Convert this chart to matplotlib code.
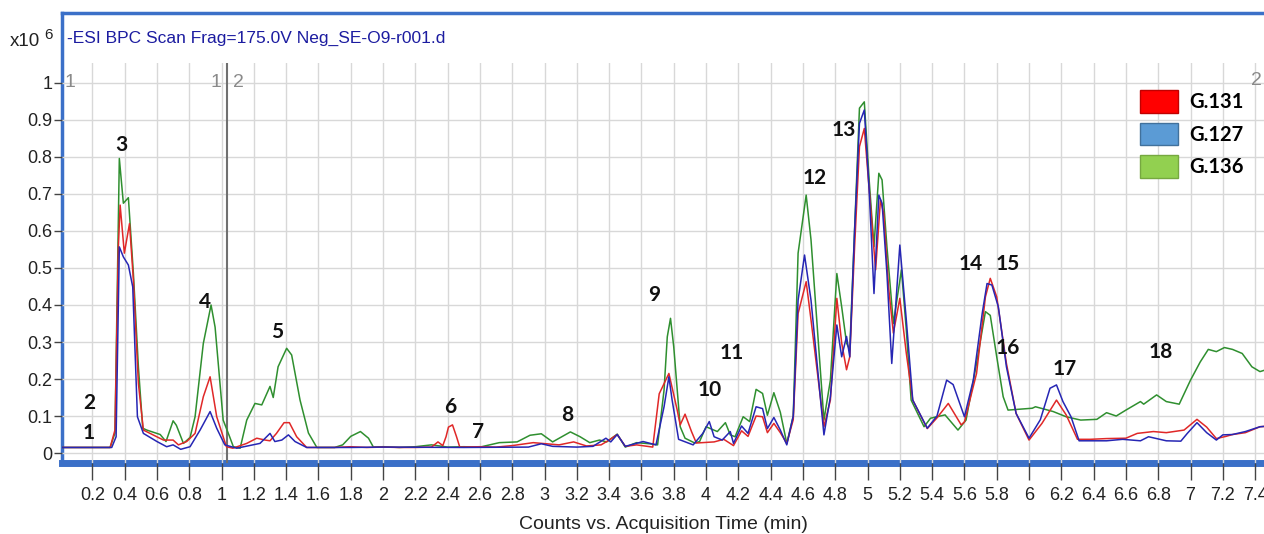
import numpy as np
import matplotlib.pyplot as plt
from matplotlib.patches import Patch

# Base peak chromatograms (counts x10^6 vs. minutes)
t_g131 = [0.00, 0.31, 0.34, 0.361, 0.372, 0.398, 0.43, 0.454, 0.485, 0.516, 0.557, 0.64, 0.70, 0.733,
          0.784, 0.836, 0.887, 0.929, 0.97, 1.03, 1.07, 1.156, 1.218, 1.27, 1.30, 1.34, 1.387, 1.42,
          1.465, 1.527, 1.70, 1.80, 1.90, 2.00, 2.10, 2.20, 2.30, 2.34, 2.37, 2.39, 2.405, 2.43, 2.455,
          2.475, 2.60, 2.70, 2.80, 2.93, 3.01, 3.09, 3.18, 3.26, 3.35, 3.40, 3.45, 3.50, 3.57, 3.67,
          3.71, 3.77, 3.82, 3.84, 3.87, 3.91, 3.94, 4.05, 4.11, 4.17, 4.22, 4.26, 4.31, 4.35, 4.38,
          4.42, 4.46, 4.50, 4.54, 4.57, 4.62, 4.65, 4.73, 4.77, 4.81, 4.84, 4.87, 4.89, 4.92, 4.95,
          4.98, 5.02, 5.05, 5.08, 5.10, 5.13, 5.16, 5.20, 5.24, 5.28, 5.37, 5.43, 5.50, 5.58, 5.60,
          5.675, 5.73, 5.76, 5.80, 5.86, 5.92, 6.00, 6.08, 6.17, 6.23, 6.30, 6.38, 6.48, 6.60, 6.67,
          6.77, 6.85, 6.96, 7.04, 7.10, 7.16, 7.22, 7.26, 7.34, 7.43, 7.46]
i_g131 = [0.015, 0.015, 0.062, 0.557, 0.670, 0.540, 0.620, 0.468, 0.188, 0.062, 0.053, 0.035, 0.035, 0.022,
          0.031, 0.053, 0.152, 0.206, 0.098, 0.017, 0.013, 0.026, 0.040, 0.035, 0.033, 0.053, 0.082, 0.082,
          0.044, 0.015, 0.015, 0.017, 0.015, 0.016, 0.015, 0.015, 0.016, 0.030, 0.020, 0.044, 0.070, 0.076, 0.044,
          0.016, 0.017, 0.016, 0.020, 0.028, 0.025, 0.022, 0.030, 0.019, 0.022, 0.035, 0.050, 0.018, 0.022, 0.016,
          0.160, 0.215, 0.119, 0.076, 0.105, 0.058, 0.027, 0.030, 0.037, 0.020, 0.060, 0.045, 0.100, 0.098, 0.055,
          0.080, 0.055, 0.026, 0.090, 0.377, 0.463, 0.360, 0.071, 0.143, 0.418, 0.297, 0.225, 0.260, 0.558, 0.828,
          0.877, 0.657, 0.495, 0.684, 0.648, 0.449, 0.324, 0.418, 0.270, 0.143, 0.066, 0.095, 0.134, 0.076, 0.084,
          0.215, 0.422, 0.472, 0.422, 0.242, 0.107, 0.035, 0.080, 0.143, 0.103, 0.037, 0.037, 0.039, 0.040, 0.053,
          0.058, 0.055, 0.062, 0.091, 0.070, 0.039, 0.045, 0.050, 0.055, 0.071, 0.072]

t_g127 = [0.00, 0.32, 0.347, 0.367, 0.392, 0.423, 0.45, 0.479, 0.516, 0.60, 0.66, 0.70, 0.747, 0.805,
          0.867, 0.929, 0.97, 1.02, 1.094, 1.238, 1.30, 1.33, 1.373, 1.414, 1.455, 1.527, 1.80, 2.00,
          2.50, 2.90, 2.98, 3.05, 3.20, 3.30, 3.38, 3.41, 3.45, 3.50, 3.61, 3.69, 3.74, 3.77, 3.79,
          3.83, 3.92, 3.98, 4.02, 4.05, 4.10, 4.15, 4.17, 4.22, 4.26, 4.31, 4.35, 4.38, 4.42, 4.46,
          4.50, 4.54, 4.57, 4.61, 4.65, 4.73, 4.77, 4.81, 4.84, 4.87, 4.89, 4.92, 4.95, 4.98, 5.01,
          5.04, 5.07, 5.09, 5.12, 5.15, 5.20, 5.24, 5.28, 5.37, 5.43, 5.49, 5.53, 5.60, 5.655, 5.71,
          5.74, 5.77, 5.81, 5.86, 5.92, 6.00, 6.07, 6.13, 6.17, 6.21, 6.26, 6.31, 6.48, 6.58, 6.69,
          6.74, 6.85, 6.94, 6.98, 7.04, 7.10, 7.16, 7.20, 7.26, 7.34, 7.43, 7.46]
i_g127 = [0.015, 0.015, 0.044, 0.557, 0.530, 0.508, 0.449, 0.098, 0.053, 0.031, 0.017, 0.022, 0.010, 0.017,
          0.062, 0.112, 0.067, 0.022, 0.013, 0.026, 0.053, 0.031, 0.035, 0.049, 0.031, 0.015, 0.015, 0.016,
          0.015, 0.016, 0.025, 0.018, 0.016, 0.018, 0.040, 0.030, 0.050, 0.018, 0.031, 0.022, 0.125, 0.206, 0.143,
          0.037, 0.022, 0.053, 0.085, 0.044, 0.035, 0.058, 0.026, 0.073, 0.053, 0.125, 0.120, 0.066, 0.096, 0.062,
          0.022, 0.100, 0.413, 0.535, 0.413, 0.049, 0.152, 0.346, 0.260, 0.315, 0.260, 0.603, 0.891, 0.927, 0.711,
          0.431, 0.697, 0.675, 0.486, 0.242, 0.562, 0.360, 0.143, 0.067, 0.100, 0.197, 0.185, 0.098, 0.197, 0.377,
          0.458, 0.454, 0.395, 0.233, 0.107, 0.040, 0.090, 0.175, 0.184, 0.139, 0.098, 0.033, 0.033, 0.037, 0.033,
          0.044, 0.033, 0.032, 0.053, 0.082, 0.055, 0.035, 0.049, 0.050, 0.058, 0.071, 0.072]

t_g136 = [0.00, 0.31, 0.34, 0.367, 0.392, 0.423, 0.454, 0.485, 0.512, 0.537, 0.62, 0.656, 0.70, 0.72,
          0.764, 0.805, 0.836, 0.887, 0.935, 0.96, 1.01, 1.05, 1.073, 1.115, 1.156, 1.207, 1.249, 1.30,
          1.32, 1.35, 1.403, 1.434, 1.486, 1.538, 1.59, 1.70, 1.75, 1.80, 1.86, 1.91, 1.94, 2.00, 2.10,
          2.20, 2.30, 2.40, 2.50, 2.60, 2.72, 2.83, 2.91, 2.98, 3.05, 3.16, 3.22, 3.28, 3.34, 3.385,
          3.45, 3.50, 3.57, 3.65, 3.70, 3.74, 3.76, 3.78, 3.80, 3.84, 3.87, 3.93, 3.96, 4.00, 4.07,
          4.12, 4.15, 4.18, 4.23, 4.27, 4.31, 4.35, 4.38, 4.42, 4.46, 4.50, 4.54, 4.57, 4.62, 4.65,
          4.73, 4.77, 4.81, 4.84, 4.87, 4.89, 4.92, 4.95, 4.98, 5.01, 5.04, 5.07, 5.09, 5.12, 5.16,
          5.21, 5.24, 5.27, 5.35, 5.39, 5.48, 5.56, 5.61, 5.675, 5.73, 5.76, 5.80, 5.84, 5.87, 6.02,
          6.04, 6.15, 6.23, 6.32, 6.42, 6.48, 6.54, 6.60, 6.69, 6.71, 6.79, 6.85, 6.93, 7.00, 7.06,
          7.11, 7.16, 7.21, 7.26, 7.32, 7.38, 7.43, 7.46]
i_g136 = [0.015, 0.015, 0.054, 0.796, 0.675, 0.690, 0.486, 0.233, 0.067, 0.062, 0.050, 0.031, 0.087, 0.075,
          0.026, 0.042, 0.098, 0.296, 0.400, 0.340, 0.089, 0.044, 0.017, 0.013, 0.089, 0.134, 0.130, 0.180,
          0.150, 0.233, 0.283, 0.265, 0.143, 0.054, 0.015, 0.015, 0.022, 0.045, 0.058, 0.040, 0.016, 0.017, 0.015,
          0.017, 0.022, 0.016, 0.017, 0.016, 0.028, 0.030, 0.048, 0.052, 0.030, 0.057, 0.044, 0.028, 0.035, 0.030,
          0.051, 0.016, 0.028, 0.025, 0.022, 0.170, 0.314, 0.364, 0.287, 0.071, 0.040, 0.027, 0.031, 0.071, 0.058,
          0.082, 0.049, 0.044, 0.098, 0.085, 0.172, 0.161, 0.102, 0.163, 0.110, 0.026, 0.100, 0.540, 0.697, 0.576,
          0.089, 0.197, 0.485, 0.395, 0.297, 0.279, 0.603, 0.932, 0.949, 0.738, 0.558, 0.756, 0.738, 0.558, 0.350,
          0.495, 0.333, 0.143, 0.071, 0.094, 0.103, 0.062, 0.089, 0.242, 0.382, 0.372, 0.260, 0.152, 0.116, 0.121,
          0.125, 0.112, 0.098, 0.089, 0.091, 0.109, 0.100, 0.116, 0.139, 0.132, 0.157, 0.139, 0.132, 0.197, 0.246,
          0.280, 0.274, 0.285, 0.280, 0.269, 0.233, 0.220, 0.224]

# numbered peaks and where their labels sit
peak_ids = [str(n) for n in range(1, 19)]
peak_x = [0.18, 0.18, 0.378, 0.90, 1.346, 2.415, 2.586, 3.14, 3.68, 4.025, 4.16, 4.67, 4.855, 5.64,
          5.87, 5.87, 6.22, 6.815]
peak_y = [0.054, 0.135, 0.832, 0.409, 0.328, 0.125, 0.058, 0.103, 0.427, 0.17, 0.269, 0.744, 0.873,
          0.511, 0.511, 0.285, 0.226, 0.274]

series = [
    ('G.136', t_g136, i_g136, '#2f8f2f', '#92d050', '#76a840'),
    ('G.131', t_g131, i_g131, '#e02828', '#ff0000', '#c00000'),
    ('G.127', t_g127, i_g127, '#2626b4', '#5b9bd5', '#41719c'),
]

NARROW = ['Liberation Sans Narrow', 'Liberation Sans', 'DejaVu Sans']
BOLD = ['Lato', 'DejaVu Sans']
FRAME = '#3b70c8'
W, H = 1264, 534

fig = plt.figure(figsize=(W / 100, H / 100), dpi=100)

# outer blue frame with the scan title
frame = fig.add_axes([62 / W, (H - 463) / H, 1.0, 450 / H])
frame.set_xticks([]), frame.set_yticks([])
frame.patch.set_alpha(0)
frame.spines['right'].set_visible(False)
frame.spines['left'].set(color=FRAME, linewidth=2.5)
frame.spines['top'].set(color=FRAME, linewidth=2.5)
frame.spines['bottom'].set(color=FRAME, linewidth=5)

ax = fig.add_axes([62 / W, (H - 463) / H, (W - 62) / W, 400 / H])
ax.patch.set_alpha(0)
for s in ax.spines.values():
    s.set_visible(False)

for name, t, i, col, _, _ in series:
    ax.plot(t, i, color=col, linewidth=1.1, zorder=3)

ax.set_xlim(0.012, 7.455)
ax.set_ylim(-0.027, 1.054)

xt = np.round(np.arange(0.2, 7.41, 0.2), 1)
ax.set_xticks(xt)
ax.set_xticklabels([f'{v:g}' for v in xt], family=NARROW, fontsize=13, color='#222222')
yt = np.round(np.arange(0, 1.01, 0.1), 1)
ax.set_yticks(yt)
ax.set_yticklabels([f'{v:g}' for v in yt], family=NARROW, fontsize=13, color='#222222')
ax.tick_params(axis='x', direction='out', length=12, width=1, color='#444444', pad=5)
ax.tick_params(axis='y', direction='out', length=6, width=1, color='#444444', pad=1)
ax.grid(True, color='#d8d8d8', linewidth=1, zorder=0)
ax.set_axisbelow(True)

# range marker at 1.03 min
ax.axvline(1.034, color='#707070', linewidth=1.5, zorder=2)
ax.text(1.0, 1.0, '1', family=NARROW, fontsize=14, color='#8a8a8a', ha='right', va='center')
ax.text(1.07, 1.0, '2', family=NARROW, fontsize=14, color='#8a8a8a', ha='left', va='center')
ax.text(0.03, 1.0, '1', family=NARROW, fontsize=14, color='#8a8a8a', ha='left', va='center')
ax.text(7.44, 1.008, '2', family=NARROW, fontsize=14, color='#8a8a8a', ha='right', va='center')

for lab, px, py in zip(peak_ids, peak_x, peak_y):
    ax.text(px, py, lab, family=BOLD, fontweight='bold', fontsize=15, ha='center', va='center',
            color='#111111', zorder=5)

ax.set_xlabel('Counts vs. Acquisition Time (min)', family=NARROW, fontsize=14, color='#222222',
              labelpad=9)

fig.text(67 / W, 1 - 38 / H, '-ESI BPC Scan Frag=175.0V Neg_SE-O9-r001.d', family=NARROW,
         fontsize=12.5, color='#1c1ca0', va='center')
fig.text(10 / W, 1 - 42 / H, 'x10', family=NARROW, fontsize=13.5, color='#222222', va='center')
fig.text(44 / W, 1 - 35 / H, '6', family=NARROW, fontsize=11, color='#222222', va='center')

handles = [Patch(facecolor=fc, edgecolor=ec, linewidth=1, label=name)
           for name, _, _, _, fc, ec in [series[1], series[2], series[0]]]
leg = ax.legend(handles=handles, loc='upper left', bbox_to_anchor=(1140 / W, 1 - 90 / H),
                bbox_transform=fig.transFigure, frameon=False, borderpad=0, borderaxespad=0,
                handlelength=1.9, handleheight=1.35, handletextpad=0.55, labelspacing=0.5,
                prop={'family': BOLD, 'weight': 'bold', 'size': 14.5})

plt.savefig('out.png', dpi=100)
